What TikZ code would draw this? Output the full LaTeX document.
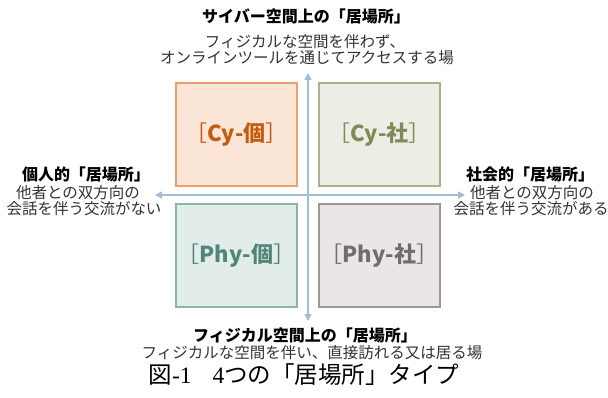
\documentclass[tikz,border=0pt]{standalone}
\usepackage{fontspec}
\setmainfont{Noto Sans CJK JP}
\newfontfamily\serifl{Liberation Serif}
\usetikzlibrary{arrows.meta}
\definecolor{axisc}{HTML}{9FBCD9}
\definecolor{cyifill}{HTML}{FBE5D6}\definecolor{cyidraw}{HTML}{EE9F6E}\definecolor{cyitext}{HTML}{C55A11}
\definecolor{cysfill}{HTML}{EDEDE5}\definecolor{cysdraw}{HTML}{A9B08C}\definecolor{cystext}{HTML}{808A58}
\definecolor{phifill}{HTML}{E2EDEA}\definecolor{phidraw}{HTML}{8CB4AA}\definecolor{phitext}{HTML}{52857A}
\definecolor{phsfill}{HTML}{EAE6E7}\definecolor{phsdraw}{HTML}{A09696}\definecolor{phstext}{HTML}{756B6B}
\definecolor{txt}{HTML}{333333}
\newcommand{\qlab}[1]{{\mdseries［}#1{\mdseries］}}
\tikzset{
  quad/.style={draw, line width=1.2pt, minimum width=121pt, minimum height=103pt, inner sep=0pt,
    font=\fontsize{22}{26}\selectfont\bfseries},
  axisline/.style={draw=axisc, line width=1.4pt, -{Triangle[width=7pt,length=7pt]}},
  ttl/.style={font=\fontsize{16}{19}\selectfont\bfseries, text=black, inner sep=0pt},
  sub/.style={font=\fontsize{15.5}{18}\selectfont, text=txt, inner sep=0pt},
}
\begin{document}
\begin{tikzpicture}[x=1pt,y=-1pt]
\useasboundingbox (0,0) rectangle (608,398);
\fill[white] (0,0) rectangle (608,398);
% quadrant boxes
\node[quad, fill=cyifill, draw=cyidraw, text=cyitext] (cyi) at (236.5,134.5) {\qlab{Cy-個}};
\node[quad, fill=cysfill, draw=cysdraw, text=cystext] (cys) at (379.5,134.5) {\qlab{Cy-社}};
\node[quad, fill=phifill, draw=phidraw, text=phitext] (phi) at (236.5,255.5) {\qlab{Phy-個}};
\node[quad, fill=phsfill, draw=phsdraw, text=phstext] (phs) at (379.5,255.5) {\qlab{Phy-社}};
% axes
\coordinate (c) at (308,195);
\coordinate (top) at (308,73);
\coordinate (bot) at (308,321);
\coordinate (lft) at (155,195);
\coordinate (rgt) at (465,195);
\draw[axisline] (c) -- (top);
\draw[axisline] (c) -- (bot);
\draw[axisline] (c) -- (lft);
\draw[axisline] (c) -- (rgt);
% top labels
\node[ttl] (t1) at (306,16) {サイバー空間上の「居場所」};
\node[sub] (t2) at (305,42) {フィジカルな空間を伴わず、};
\node[sub] (t3) at (307,58) {オンラインツールを通じてアクセスする場};
% left labels
\node[ttl] (l1) at (86,174) {個人的「居場所」};
\node[sub] (l2) at (78,193) {他者との双方向の};
\node[sub] (l3) at (84,209) {会話を伴う交流がない};
% right labels
\node[ttl] (r1) at (530,174) {社会的「居場所」};
\node[sub] (r2) at (532,193) {他者との双方向の};
\node[sub] (r3) at (531,209) {会話を伴う交流がある};
% bottom labels
\node[ttl] (b1) at (305,335) {フィジカル空間上の「居場所」};
\node[sub] (b2) at (312,353) {フィジカルな空間を伴い、直接訪れる又は居る場};
% caption
\node[inner sep=0pt, font=\fontsize{23.5}{27}\selectfont, text=black] (cap) at (304,375)
  {図{\serifl -1}\hspace{0.9em}{\serifl 4}つの「居場所」タイプ};
\end{tikzpicture}
\end{document}
